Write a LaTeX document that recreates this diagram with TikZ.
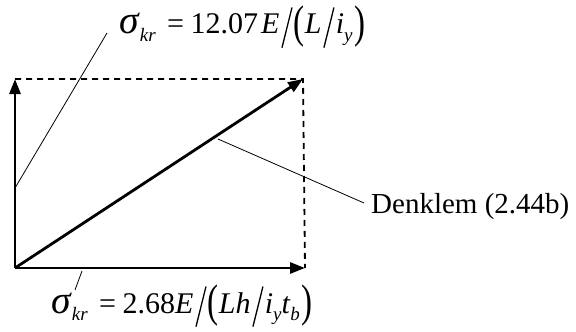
\documentclass[tikz,border=0pt]{standalone}
\usepackage{fontspec}
\setmainfont{Liberation Serif}
\usepackage{graphicx}
\usetikzlibrary{arrows.meta}
\newcommand{\tsl}{\hspace{0.06em}\raisebox{-0.45em}{\rotatebox{-14}{\rule{1.3pt}{1.38em}}}\hspace{0.04em}}
\newcommand{\blp}{\raisebox{-0.13em}{\scalebox{1.1}[1.52]{(}}}
\newcommand{\brp}{\raisebox{-0.13em}{\scalebox{1.1}[1.52]{)}}}
\newcommand{\sgm}{\scalebox{1.32}{\textit{σ}}}
\newcommand{\sbs}[1]{\raisebox{-0.25em}{\fontsize{19}{19}\selectfont\itshape #1}}
\newcommand{\eqs}{\hspace{0.38em}=\hspace{0.22em}}
\tikzset{
  axis/.style={line width=2.8pt,-{Triangle[length=15pt,width=11pt]}},
  guide/.style={line width=1.8pt,dash pattern=on 6pt off 5pt},
  leader/.style={line width=0.8pt},
  lbl/.style={inner sep=0pt,font=\fontsize{30}{30}\selectfont}
}
\begin{document}
\begin{tikzpicture}[x=1pt,y=-1pt]
\useasboundingbox (0,0) rectangle (576,332);
\coordinate (O) at (15,268);
\coordinate (TL) at (15,79);
\coordinate (BR) at (305,268);
\coordinate (TR) at (303,79);
\draw[guide] (TL) -- (TR) -- (BR);
\draw[axis] (O) -- (TL);
\draw[axis] (O) -- (BR);
\draw[axis] (O) -- (TR);
\node[lbl,anchor=base west] (top) at (119,34) {\sgm\sbs{kr}\eqs 12.07\hspace{0.1em}\textit{E}\tsl\blp\textit{L}\tsl\textit{i}\sbs{y}\hspace{0.05em}\brp};
\node[lbl,anchor=base west] (bot) at (51,313) {\sgm\sbs{kr}\eqs 2.68\textit{E}\tsl\blp\textit{Lh}\tsl\textit{i}\sbs{y}\textit{t}\sbs{b}\hspace{0.05em}\brp};
\node[lbl,anchor=west,font=\fontsize{29}{29}\selectfont] (den) at (371,207) {Denklem (2.44b)};
\coordinate (a1) at (15,188);
\coordinate (a2) at (107,33);
\coordinate (b1) at (82,271);
\coordinate (b2) at (75,290);
\coordinate (c1) at (218,139);
\coordinate (c2) at (364,203);
\draw[leader] (a1) -- (a2);
\draw[leader] (b1) -- (b2);
\draw[leader] (c1) -- (c2);
\end{tikzpicture}
\end{document}
